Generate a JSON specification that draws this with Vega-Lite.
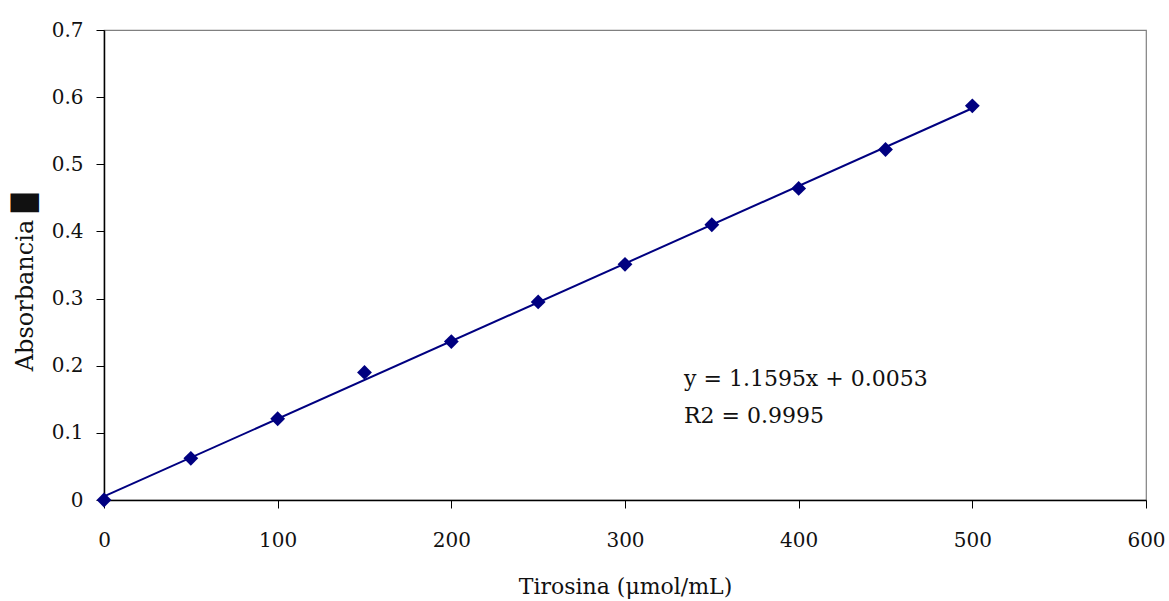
{
  "$schema": "https://vega.github.io/schema/vega-lite/v6.json",
  "width": 1042,
  "height": 470,
  "autosize": {"type": "none"},
  "padding": {"left": 104, "top": 30, "right": 23, "bottom": 101},
  "background": "white",
  "config": {
    "font": "DejaVu Serif",
    "view": {"stroke": "#808080", "strokeWidth": 1.2},
    "axis": {
      "labelFont": "DejaVu Serif",
      "titleFont": "DejaVu Serif",
      "labelFontSize": 20,
      "titleFontSize": 22,
      "titleFontWeight": "normal",
      "labelColor": "#111",
      "titleColor": "#111",
      "labelFlush": false,
      "labelOverlap": false,
      "domainColor": "black",
      "domainWidth": 1.5,
      "tickColor": "black",
      "tickWidth": 1,
      "tickSize": 8,
      "grid": false
    }
  },
  "data": {
    "values": [
      {"x": 0, "y": 0.0},
      {"x": 50, "y": 0.062},
      {"x": 100, "y": 0.121},
      {"x": 150, "y": 0.19},
      {"x": 200, "y": 0.236},
      {"x": 250, "y": 0.295},
      {"x": 300, "y": 0.351},
      {"x": 350, "y": 0.41},
      {"x": 400, "y": 0.464},
      {"x": 450, "y": 0.522},
      {"x": 500, "y": 0.587}
    ]
  },
  "layer": [
    {
      "transform": [{"regression": "y", "on": "x", "extent": [0, 500]}],
      "mark": {"type": "line", "color": "#000080", "strokeWidth": 2},
      "encoding": {
        "x": {"field": "x", "type": "quantitative"},
        "y": {"field": "y", "type": "quantitative"}
      }
    },
    {
      "mark": {"type": "point", "shape": "diamond", "filled": true, "color": "#000080", "size": 220, "opacity": 1},
      "encoding": {
        "x": {
          "field": "x", "type": "quantitative",
          "scale": {"domain": [0, 600], "nice": false},
          "axis": {"values": [0, 100, 200, 300, 400, 500, 600], "labelPadding": 22, "title": "Tirosina (μmol/mL)", "titlePadding": 26}
        },
        "y": {
          "field": "y", "type": "quantitative",
          "scale": {"domain": [0, 0.7], "nice": false},
          "axis": {"values": [0, 0.1, 0.2, 0.3, 0.4, 0.5, 0.6, 0.7], "format": ".1~f", "labelPadding": 13, "title": "Absorbancia █", "titleFontSize": 24, "titleY": 252, "titlePadding": 14}
        }
      }
    },
    {
      "data": {"values": [
        {"tx": 334, "ty": 0.18, "label": "y = 1.1595x + 0.0053"},
        {"tx": 334, "ty": 0.125, "label": "R2 = 0.9995"}
      ]},
      "mark": {"type": "text", "align": "left", "baseline": "middle", "fontSize": 22, "font": "DejaVu Serif", "color": "#111"},
      "encoding": {
        "x": {"field": "tx", "type": "quantitative"},
        "y": {"field": "ty", "type": "quantitative"},
        "text": {"field": "label"}
      }
    }
  ]
}
